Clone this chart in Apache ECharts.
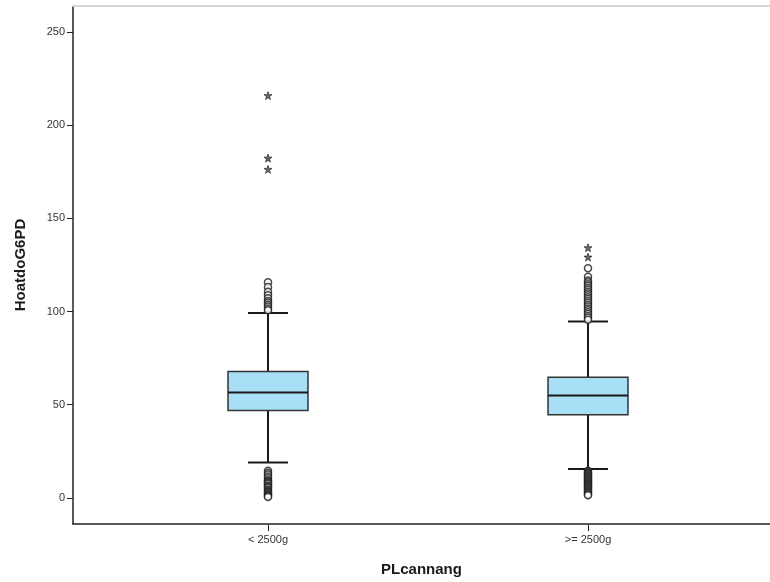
<!DOCTYPE html>
<html>
<head>
<meta charset="utf-8">
<script src="https://cdn.jsdelivr.net/npm/echarts@6/dist/echarts.min.js"></script>
<style>
html,body{margin:0;padding:0;background:#fff;}
#chart{width:770px;height:582px;}
</style>
</head>
<body>
<div id="chart"></div>
<script>
const categories = ['< 2500g', '>= 2500g'];
const lowerWhisker = [19.5, 16];
const q1 = [47.3, 45];
const median = [57, 55.4];
const q3 = [68.2, 65.2];
const upperWhisker = [99.5, 95];
const yTicks = [0, 50, 100, 150, 200, 250];

const circlesLow = [
  [15, 14, 13, 12, 11, 10, 9.5, 9, 8.5, 8, 7, 6.5, 6, 5, 4.5, 4, 3.5, 3, 2.5, 2, 1.5, 1],
  [15, 14.5, 14, 13.5, 13, 12.5, 12, 11.5, 11, 10.5, 10, 9.5, 9, 8.5, 8, 7.5, 7, 6.5, 6, 5.5, 5, 4.5, 4, 3.5, 3, 2.5, 2]
];
const circlesHigh = [
  [116, 113.5, 111, 109, 107.5, 106, 105, 104, 103, 102, 101],
  [123.5, 119, 117, 116, 115, 114, 113, 112, 111, 110, 109, 108, 107, 106, 105, 104, 103, 102, 101, 100, 99, 98, 97, 96]
];
const stars = [
  [216, 182.5, 176.5],
  [134.5, 129.5]
];

const boxData = categories.map((c, i) => [i, lowerWhisker[i], q1[i], median[i], q3[i], upperWhisker[i]]);
const toPts = arr => arr.flatMap((vals, i) => vals.map(v => [i, v]));

const chart = echarts.init(document.getElementById('chart'), null, {renderer: 'canvas'});
const yMin = -14, yMax = 264;
const starPath = 'path://M0,-5 L1.2,-1.6 L4.8,-1.6 L1.9,0.6 L3,4 L0,2 L-3,4 L-1.9,0.6 L-4.8,-1.6 L-1.2,-1.6 Z';

chart.setOption({
  animation: false,
  backgroundColor: '#ffffff',
  grid: [
    {left: 73, right: 0, top: 6, bottom: 57},
    {left: 108, right: 22, top: 6, bottom: 57}
  ],
  xAxis: [
    {
      type: 'value', gridIndex: 0, min: 0, max: 1, position: 'bottom',
      name: 'PLcannang', nameLocation: 'middle', nameGap: 38,
      nameTextStyle: {fontFamily: 'Liberation Sans', fontWeight: 'bold', fontSize: 15, color: '#1a1a1a'},
      axisLine: {show: true, onZero: false, lineStyle: {color: '#222', width: 1.5}},
      axisTick: {show: false}, axisLabel: {show: false}, splitLine: {show: false}
    },
    {
      type: 'value', gridIndex: 0, min: 0, max: 1, position: 'top',
      axisLine: {show: true, onZero: false, lineStyle: {color: '#d6d6d6', width: 2}},
      axisTick: {show: false}, axisLabel: {show: false}, splitLine: {show: false}
    },
    {
      type: 'category', gridIndex: 1, data: categories, position: 'bottom',
      axisLine: {show: false, onZero: false},
      axisTick: {show: true, alignWithLabel: true, length: 6, lineStyle: {color: '#222', width: 1}},
      axisLabel: {fontFamily: 'Liberation Sans', fontSize: 11, color: '#333', margin: 9},
      splitLine: {show: false}
    }
  ],
  yAxis: [
    {
      type: 'value', gridIndex: 0, min: yMin, max: yMax,
      name: 'HoatdoG6PD', nameLocation: 'middle', nameGap: 45,
      nameTextStyle: {fontFamily: 'Liberation Sans', fontWeight: 'bold', fontSize: 15, color: '#1a1a1a'},
      axisLine: {show: true, onZero: false, lineStyle: {color: '#222', width: 1.5}},
      axisTick: {show: true, length: 6, customValues: yTicks, lineStyle: {color: '#222'}},
      axisLabel: {customValues: yTicks, fontFamily: 'Liberation Sans', fontSize: 11, color: '#333', margin: 8},
      splitLine: {show: false}
    },
    {
      type: 'value', gridIndex: 1, min: yMin, max: yMax, show: false
    }
  ],
  series: [
    {
      type: 'custom', xAxisIndex: 2, yAxisIndex: 1, data: boxData,
      encode: {x: 0, y: [1, 2, 3, 4, 5]},
      renderItem: function (params, api) {
        const cat = api.value(0);
        const band = api.size([1, 0])[0];
        const bw = band * 0.25;
        const cw = bw * 0.5;
        const pLo = api.coord([cat, api.value(1)]);
        const pQ1 = api.coord([cat, api.value(2)]);
        const pMed = api.coord([cat, api.value(3)]);
        const pQ3 = api.coord([cat, api.value(4)]);
        const pHi = api.coord([cat, api.value(5)]);
        const x = pMed[0];
        const line = {stroke: '#1a1a1a', lineWidth: 2};
        return {
          type: 'group',
          children: [
            {type: 'line', shape: {x1: x, y1: pHi[1], x2: x, y2: pQ3[1]}, style: line},
            {type: 'line', shape: {x1: x, y1: pQ1[1], x2: x, y2: pLo[1]}, style: line},
            {type: 'line', shape: {x1: x - cw / 2, y1: pHi[1], x2: x + cw / 2, y2: pHi[1]}, style: line},
            {type: 'line', shape: {x1: x - cw / 2, y1: pLo[1], x2: x + cw / 2, y2: pLo[1]}, style: line},
            {type: 'rect', shape: {x: x - bw / 2, y: pQ3[1], width: bw, height: pQ1[1] - pQ3[1]},
              style: {fill: '#a9def7', stroke: '#333', lineWidth: 1.5}},
            {type: 'line', shape: {x1: x - bw / 2, y1: pMed[1], x2: x + bw / 2, y2: pMed[1]}, style: line}
          ]
        };
      }
    },
    {
      type: 'scatter', xAxisIndex: 2, yAxisIndex: 1,
      data: toPts(circlesLow).concat(toPts(circlesHigh)),
      symbol: 'circle', symbolSize: 7,
      itemStyle: {color: '#ffffff', borderColor: '#1a1a1a', borderWidth: 1.5}
    },
    {
      type: 'scatter', xAxisIndex: 2, yAxisIndex: 1,
      data: toPts(stars),
      symbol: starPath, symbolSize: 8,
      itemStyle: {color: '#444', borderColor: '#1a1a1a', borderWidth: 0.8}
    }
  ]
});
</script>
</body>
</html>
